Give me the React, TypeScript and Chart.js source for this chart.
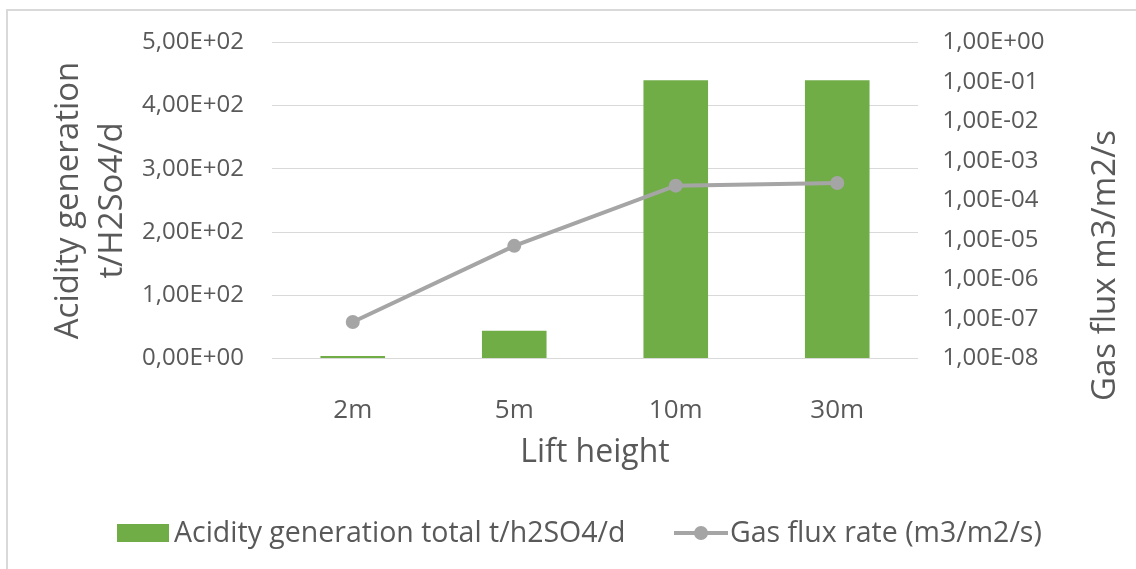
import React, { useEffect, useRef } from "react";
import { Chart, registerables } from "chart.js";

Chart.register(...registerables);

// ---- data ----
const categories = ["2m", "5m", "10m", "30m"];
const acidityValues = [4, 44, 440, 440];
const gasFluxValues = [8.4e-8, 7.1e-6, 2.37e-4, 2.76e-4];
const leftTickValues = [0, 100, 200, 300, 400, 500];
const rightTickExponents = [-8, -7, -6, -5, -4, -3, -2, -1, 0];
const acidityLabel = "Acidity generation total t/h2SO4/d";
const gasLabel = "Gas flux rate (m3/m2/s)";
const leftTitle = ["Acidity generation", "t/H2So4/d"];
const rightTitle = "Gas flux m3/m2/s";
const xTitle = "Lift height";

// ---- styles ----
const GREEN = "#70ad47";
const GRAY = "#a5a5a5";
const TEXT = "#595959";
const GRID = "#d9d9d9";
const FONT = '"Open Sans", sans-serif';

function sci(v: number): string {
  if (v === 0) return "0,00E+00";
  let e = Math.floor(Math.log10(Math.abs(v)) + 1e-9);
  let m = v / Math.pow(10, e);
  if (Math.round(m * 100) >= 1000) {
    e += 1;
    m = v / Math.pow(10, e);
  }
  const ms = m.toFixed(2).replace(".", ",");
  const es = (e < 0 ? "-" : "+") + String(Math.abs(e)).padStart(2, "0");
  return ms + "E" + es;
}

const decorPlugin = {
  id: "decor",
  beforeDraw(chart: any) {
    const ctx = chart.ctx as CanvasRenderingContext2D;
    ctx.save();
    ctx.fillStyle = "#ffffff";
    ctx.fillRect(0, 0, chart.width, chart.height);
    ctx.strokeStyle = GRID;
    ctx.lineWidth = 2;
    ctx.strokeRect(7, 10, chart.width + 40, chart.height + 40);
    ctx.restore();
  },
  afterDraw(chart: any) {
    const ctx = chart.ctx as CanvasRenderingContext2D;
    const ds = chart.data.datasets;
    // right axis title (reads bottom to top)
    ctx.save();
    ctx.font = `33px ${FONT}`;
    ctx.fillStyle = TEXT;
    ctx.textAlign = "center";
    ctx.textBaseline = "middle";
    ctx.translate(1105.5, 265.5);
    ctx.rotate(-Math.PI / 2);
    ctx.fillText(rightTitle, 0, 0);
    ctx.restore();

    // legend
    const ly = 533.5;
    ctx.save();
    ctx.font = `28.5px ${FONT}`;
    ctx.textAlign = "left";
    ctx.textBaseline = "middle";
    // item 1: bar
    ctx.fillStyle = ds[0].backgroundColor;
    ctx.fillRect(117, 524, 52, 18);
    ctx.fillStyle = TEXT;
    ctx.fillText(ds[0].label, 174, ly);
    // item 2: line with marker
    ctx.strokeStyle = ds[1].borderColor;
    ctx.lineWidth = 4;
    ctx.beginPath();
    ctx.moveTo(674, ly - 0.5);
    ctx.lineTo(728, ly - 0.5);
    ctx.stroke();
    ctx.fillStyle = ds[1].pointBackgroundColor;
    ctx.beginPath();
    ctx.arc(701, ly - 0.5, 7, 0, Math.PI * 2);
    ctx.fill();
    ctx.fillStyle = TEXT;
    ctx.fillText(ds[1].label, 730, ly);
    ctx.restore();
  },
};

export default function App() {
  const canvasRef = useRef<HTMLCanvasElement | null>(null);

  useEffect(() => {
    if (!canvasRef.current) return;
    Chart.defaults.font.family = FONT;
    const chart = new Chart(canvasRef.current, {
      type: "bar",
      data: {
        labels: categories,
        datasets: [
          {
            type: "bar",
            label: acidityLabel,
            data: acidityValues,
            backgroundColor: GREEN,
            yAxisID: "y",
            barPercentage: 0.4,
            categoryPercentage: 1.0,
            order: 1,
          } as any,
          {
            type: "line",
            label: gasLabel,
            data: gasFluxValues,
            borderColor: GRAY,
            backgroundColor: GRAY,
            borderWidth: 4,
            pointRadius: 7,
            pointHoverRadius: 7,
            pointBorderWidth: 0,
            pointBackgroundColor: GRAY,
            borderCapStyle: "round",
            tension: 0,
            yAxisID: "y1",
            order: 0,
          } as any,
        ],
      },
      options: {
        responsive: false,
        animation: false,
        devicePixelRatio: 1,
        layout: { padding: { top: 40, left: 0, right: 0, bottom: 0 } },
        plugins: {
          legend: { display: false },
          tooltip: { enabled: false },
        },
        scales: {
          x: {
            grid: { display: false },
            border: { display: false },
            ticks: {
              color: TEXT,
              font: { size: 26 },
              padding: 28.5,
            },
            title: {
              display: true,
              text: xTitle,
              color: TEXT,
              font: { size: 32 },
              padding: { top: 0, bottom: 97.4 },
            },
            afterFit: (scale: any) => {
              scale.height = 210.5;
            },
          },
          y: {
            position: "left",
            min: 0,
            max: 500,
            grid: { color: GRID, lineWidth: 1, drawTicks: false },
            border: { display: false },
            ticks: {
              color: TEXT,
              font: { size: 24 },
              padding: 28,
              stepSize: 100,
              callback: (v: any) => sci(Number(v)),
            },
            afterBuildTicks: (scale: any) => {
              scale.ticks = leftTickValues.map((v) => ({ value: v }));
            },
            title: {
              display: true,
              text: leftTitle,
              color: TEXT,
              font: { size: 33, lineHeight: 1.333 },
              padding: { top: 46.6, bottom: 0 },
            },
            afterFit: (scale: any) => {
              scale.width = 272;
            },
          },
          y1: {
            type: "logarithmic",
            position: "right",
            min: 1e-8,
            max: 1,
            grid: { display: false, drawTicks: false },
            border: { display: false },
            ticks: {
              color: TEXT,
              font: { size: 24 },
              padding: 24.5,
              autoSkip: false,
              callback: (v: any) => sci(Number(v)),
            },
            afterBuildTicks: (scale: any) => {
              scale.ticks = rightTickExponents.map((e) => ({ value: Math.pow(10, e) }));
            },
            afterFit: (scale: any) => {
              scale.width = 218;
            },
          },
        },
      } as any,
      plugins: [decorPlugin],
    });
    return () => chart.destroy();
  }, []);

  return (
    <div style={{ position: "absolute", left: 0, top: 0, width: 1136, height: 569 }}>
      <canvas ref={canvasRef} width={1136} height={569} style={{ display: "block" }} />
    </div>
  );
}
